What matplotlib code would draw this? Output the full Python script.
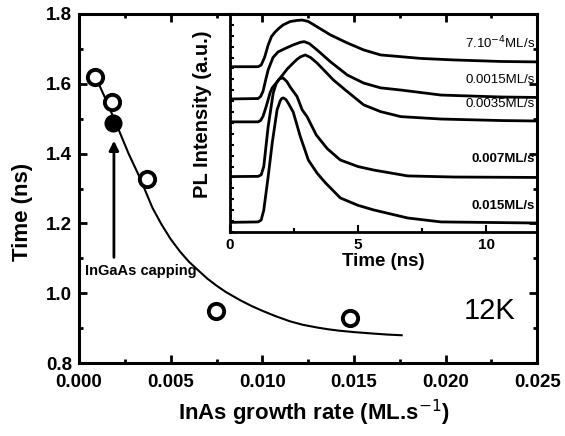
import matplotlib
matplotlib.use('Agg')
import matplotlib.pyplot as plt
from matplotlib.ticker import MultipleLocator, FormatStrFormatter

plt.rcParams['font.family'] = ['Liberation Sans', 'DejaVu Sans']

# main panel: decay time vs growth rate
rate_open = [0.00087, 0.00179, 0.0037, 0.00745, 0.0148]
time_open = [1.619, 1.548, 1.327, 0.950, 0.930]
rate_capped = [0.00185]
time_capped = [1.487]

fit_rate = [0.0009, 0.0015, 0.0021, 0.0027, 0.0033, 0.0040, 0.0045, 0.0050, 0.0055, 0.0060,
            0.0066, 0.0070, 0.0075, 0.0080, 0.0088, 0.0094, 0.0100, 0.0107, 0.0115, 0.0122,
            0.0130, 0.0136, 0.0142, 0.0150, 0.0160, 0.0168, 0.0176]
fit_time = [1.620, 1.550, 1.476, 1.400, 1.333, 1.245, 1.197, 1.155, 1.120, 1.090,
            1.061, 1.042, 1.022, 1.004, 0.980, 0.964, 0.950, 0.935, 0.920, 0.910,
            0.902, 0.897, 0.893, 0.889, 0.885, 0.882, 0.880]

# inset: PL transients (ns, a.u.)
t_a = [0, 1.10, 1.22, 1.35, 1.49, 1.62, 1.76, 1.92, 2.08, 2.35, 2.60, 2.82, 3.05, 3.25, 3.92, 4.58,
       5.22, 5.88, 6.67, 7.45, 8.75, 10.59, 12.0]
pl_a = [0.758, 0.758, 0.766, 0.800, 0.857, 0.896, 0.917, 0.935, 0.950, 0.965, 0.970, 0.972, 0.966,
        0.952, 0.904, 0.867, 0.835, 0.812, 0.804, 0.796, 0.789, 0.782, 0.780]

t_b = [0, 1.10, 1.20, 1.29, 1.40, 1.49, 1.68, 1.88, 2.20, 2.47, 2.75, 2.90, 3.10, 3.40, 3.92, 4.58,
       5.22, 5.88, 6.67, 8.24, 10.59, 12.0]
pl_b = [0.610, 0.612, 0.622, 0.645, 0.700, 0.743, 0.800, 0.826, 0.844, 0.858, 0.870, 0.873, 0.864,
        0.835, 0.781, 0.720, 0.683, 0.661, 0.651, 0.628, 0.619, 0.617]

t_c = [0, 1.10, 1.20, 1.29, 1.40, 1.49, 1.57, 1.65, 1.96, 2.24, 2.47, 2.62, 2.75, 2.94, 3.15, 3.40,
       4.04, 4.58, 5.22, 5.88, 6.67, 8.24, 10.59, 12.0]
pl_c = [0.505, 0.505, 0.512, 0.530, 0.570, 0.606, 0.640, 0.661, 0.706, 0.748, 0.775, 0.792, 0.803,
        0.812, 0.800, 0.775, 0.697, 0.644, 0.583, 0.552, 0.529, 0.518, 0.511, 0.509]

t_d = [0, 1.10, 1.22, 1.32, 1.49, 1.69, 1.80, 1.90, 1.96, 2.08, 2.22, 2.35, 2.62, 2.82, 3.01, 3.37,
       3.80, 4.31, 5.00, 5.61, 6.94, 8.75, 12.0]
pl_d = [0.254, 0.255, 0.262, 0.300, 0.482, 0.638, 0.679, 0.698, 0.704, 0.706, 0.690, 0.665, 0.621,
        0.560, 0.529, 0.445, 0.382, 0.330, 0.300, 0.284, 0.257, 0.252, 0.250]

t_e = [0, 1.10, 1.22, 1.32, 1.49, 1.65, 1.84, 1.96, 2.02, 2.08, 2.18, 2.27, 2.47, 2.75, 2.86, 3.06,
       3.40, 3.73, 4.31, 5.00, 5.61, 6.94, 8.24, 12.0]
pl_e = [0.044, 0.046, 0.055, 0.100, 0.252, 0.408, 0.560, 0.601, 0.612, 0.615, 0.608, 0.592, 0.550,
        0.436, 0.399, 0.330, 0.270, 0.225, 0.156, 0.122, 0.101, 0.064, 0.046, 0.041]

traces = [(t_a, pl_a), (t_b, pl_b), (t_c, pl_c), (t_d, pl_d), (t_e, pl_e)]
trace_labels = ['7.10$^{-4}$ML/s', '0.0015ML/s', '0.0035ML/s', '0.007ML/s', '0.015ML/s']
label_y = [0.83, 0.67, 0.56, 0.305, 0.09]
label_weight = ['normal', 'normal', 'normal', 'bold', 'bold']

fig = plt.figure(figsize=(5.65, 4.36), dpi=100)
ax = fig.add_axes([0.140, 0.167, 0.811, 0.801])

ax.plot(fit_rate, fit_time, color='k', lw=1.5, zorder=2)
ax.plot(rate_open, time_open, 'o', ms=11, mfc='white', mec='k', mew=2.8, zorder=3)
ax.plot(rate_capped, time_capped, 'o', ms=11, mfc='k', mec='k', mew=2.0, zorder=3)

ax.annotate('', xy=(0.0019, 1.445), xytext=(0.0019, 1.095),
            arrowprops=dict(arrowstyle='-|>', color='k', lw=2, mutation_scale=14))
ax.text(0.0003, 1.064, 'InGaAs capping', fontsize=10.5, fontweight='bold', va='center')
ax.text(0.0224, 0.949, '12K', fontsize=21, ha='center', va='center')

ax.set_xlim(0, 0.025)
ax.set_ylim(0.8, 1.8)
ax.xaxis.set_major_locator(MultipleLocator(0.005))
ax.xaxis.set_minor_locator(MultipleLocator(0.0025))
ax.yaxis.set_major_locator(MultipleLocator(0.2))
ax.yaxis.set_minor_locator(MultipleLocator(0.1))
ax.xaxis.set_major_formatter(FormatStrFormatter('%.3f'))
ax.yaxis.set_major_formatter(FormatStrFormatter('%.1f'))
ax.tick_params(which='both', direction='in', top=True, right=True, width=2)
ax.tick_params(which='major', length=6, labelsize=13.5)
ax.tick_params(axis='x', which='major', pad=8)
ax.tick_params(axis='y', which='major', pad=5)
ax.tick_params(which='minor', length=3)
for lab in ax.get_xticklabels() + ax.get_yticklabels():
    lab.set_fontweight('bold')
for sp in ax.spines.values():
    sp.set_linewidth(2.2)
ax.set_xlabel('InAs growth rate (ML.s$^{-1}$)', fontsize=16, fontweight='bold')
ax.set_ylabel('Time (ns)', fontsize=16, fontweight='bold')
ax.xaxis.set_label_coords(0.512, -0.10)
ax.yaxis.set_label_coords(-0.10, 0.433)

# inset
ins = fig.add_axes([0.407, 0.468, 0.544, 0.500])
ins.patch.set_alpha(0)
for (t, pl) in traces:
    ins.plot(t, pl, color='k', lw=2)
for txt, y, w in zip(trace_labels, label_y, label_weight):
    ins.text(11.9, y, txt, fontsize=9.5, fontweight=w, ha='right', va='bottom')
ins.set_xlim(0, 12)
ins.set_ylim(0, 1)
ins.xaxis.set_major_locator(MultipleLocator(5))
ins.xaxis.set_minor_locator(MultipleLocator(2.5))
ins.yaxis.set_major_locator(MultipleLocator(0.05))
ins.yaxis.set_minor_locator(MultipleLocator(0.025))
ins.set_yticklabels([])
ins.tick_params(which='both', direction='in', top=False, right=False, width=1.5)
ins.tick_params(axis='x', which='major', length=5, labelsize=11, pad=4)
ins.tick_params(axis='x', which='minor', length=3)
ins.tick_params(axis='y', which='major', length=3, labelleft=False)
ins.tick_params(axis='y', which='minor', length=1.5)
for lab in ins.get_xticklabels():
    lab.set_fontweight('bold')
for sp in ins.spines.values():
    sp.set_linewidth(2)
ins.set_xlabel('Time (ns)', fontsize=13.5, fontweight='bold', labelpad=1)
ins.set_ylabel('PL Intensity (a.u.)', fontsize=14.5, fontweight='bold')
ins.yaxis.set_label_coords(-0.06, 0.54)

fig.savefig('out.png', dpi=100)
